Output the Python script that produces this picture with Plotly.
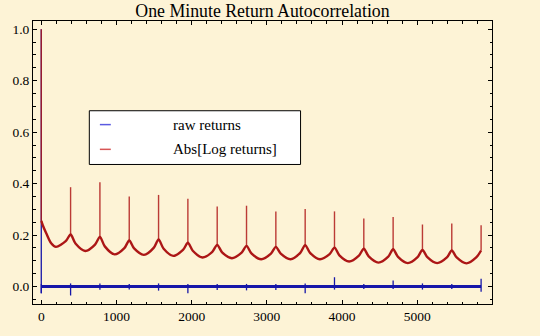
import plotly.graph_objects as go

DAY = 390  # one trading day of one-minute bars
N_DAYS = 15

# Abs[Log returns] autocorrelation
# level just under each whole-day spike (lags 390, 780, ..., 5850)
abs_peak = [0.202, 0.193, 0.179, 0.183, 0.170, 0.162, 0.158, 0.154,
            0.161, 0.151, 0.147, 0.145, 0.142, 0.140, 0.140]
# top of the spike at each whole-day lag
abs_spike = [0.386, 0.405, 0.350, 0.356, 0.341, 0.311, 0.314, 0.292,
             0.301, 0.292, 0.264, 0.270, 0.241, 0.245, 0.238]
# mid-day troughs (lags 195, 585, ...)
abs_trough = [0.154, 0.138, 0.125, 0.123, 0.119, 0.113, 0.110, 0.106,
              0.106, 0.106, 0.097, 0.093, 0.091, 0.091, 0.090]
# 65 lags after each spike, and 65 lags before the next one
abs_fall = [0.167, 0.156, 0.148, 0.148, 0.139, 0.133, 0.129, 0.128,
            0.131, 0.121, 0.117, 0.115, 0.114, 0.113]
abs_rise = [0.176, 0.163, 0.149, 0.150, 0.142, 0.135, 0.132, 0.128,
            0.131, 0.126, 0.120, 0.116, 0.114, 0.113, 0.113]
# opening lags of the first day
abs_head_lag = [0, 1, 20, 66, 132]
abs_head = [1.0, 0.255, 0.238, 0.207, 0.168]

# raw returns autocorrelation: 1 at lag 0, then flat at zero with a few daily blips
raw_lag = [0, 1, 5850]
raw_val = [1.0, 0.0, 0.0]
raw_spike_lag = [1, 390, 780, 1170, 1560, 1950, 2340, 2730, 3120, 3510,
                 3900, 4290, 4680, 5070, 5460, 5850]
raw_spike_lo = [-0.026, -0.035, -0.013, -0.012, -0.016, -0.026, -0.014, -0.015,
                -0.014, -0.026, -0.012, -0.010, -0.010, -0.012, -0.010, -0.020]
raw_spike_hi = [0.010, 0.012, 0.012, 0.010, 0.012, 0.010, 0.010, 0.010,
                0.010, 0.012, 0.036, 0.010, 0.023, 0.012, 0.010, 0.030]

SERIF = "Liberation Serif"
BG = "#FDF3D6"
RED = "rgb(172,22,22)"
BLUE = "rgb(22,22,168)"

# daily scallops: knots at spike, +65, trough, -65 before next spike
arc_x = abs_head_lag[1:]
arc_y = abs_head[1:]
for d in range(N_DAYS):
    start = d * DAY
    if d > 0:
        arc_x += [start, start + 65]
        arc_y += [abs_peak[d - 1], abs_fall[d - 1]]
    arc_x += [start + DAY // 2, start + DAY - 65]
    arc_y += [abs_trough[d], abs_rise[d]]
arc_x.append(N_DAYS * DAY)
arc_y.append(abs_peak[-1])

# vertical spikes: lag 0 plus every whole day
spk_x = [abs_head_lag[0], abs_head_lag[0], None]
spk_y = [abs_head[1], abs_head[0], None]
for k in range(N_DAYS):
    lag = (k + 1) * DAY
    spk_x += [lag, lag, None]
    spk_y += [abs_peak[k], abs_spike[k], None]

# raw returns: thin drop from lag 0 to lag 1, thick noisy band afterwards
blip_x = [raw_lag[0], raw_lag[0], None]
blip_y = [raw_val[0], raw_spike_lo[0], None]
for lag, lo, hi in zip(raw_spike_lag, raw_spike_lo, raw_spike_hi):
    blip_x += [lag, lag, None]
    blip_y += [lo, hi, None]

fig = go.Figure()
fig.add_trace(go.Scatter(x=raw_lag[1:], y=raw_val[1:], mode="lines",
                         line=dict(color=BLUE, width=3.2), showlegend=False,
                         name="raw returns"))
fig.add_trace(go.Scatter(x=blip_x, y=blip_y, mode="lines",
                         line=dict(color=BLUE, width=1.3), showlegend=False))
fig.add_trace(go.Scatter(x=spk_x, y=spk_y, mode="lines",
                         line=dict(color="rgba(175,25,25,0.85)", width=1.4),
                         showlegend=False))
fig.add_trace(go.Scatter(x=arc_x, y=arc_y, mode="lines",
                         line=dict(color=RED, width=2.4, shape="spline", smoothing=0.8),
                         showlegend=False, name="Abs[Log returns]"))

# legend box
fig.add_shape(type="rect", xref="paper", yref="paper",
              x0=0.1227, x1=0.5829, y0=0.493, y1=0.6829,
              fillcolor="white", line=dict(color="black", width=1), layer="above")
for yy, col, label in [(0.6339, "rgb(90,90,225)", "raw returns"),
                       (0.5465, "rgb(215,85,85)", "Abs[Log returns]")]:
    fig.add_shape(type="line", xref="paper", yref="paper",
                  x0=0.1457, x1=0.1695, y0=yy, y1=yy,
                  line=dict(color=col, width=1.5), layer="above")
    fig.add_annotation(xref="paper", yref="paper", x=0.3015, y=yy,
                       xanchor="left", yanchor="middle", text=label,
                       showarrow=False,
                       font=dict(family=SERIF, size=15, color="black"))

axis_common = dict(showgrid=False, zeroline=False, showline=True,
                   linecolor="black", linewidth=1, mirror="allticks",
                   ticks="inside", ticklen=4, tickwidth=1, tickcolor="black",
                   tickfont=dict(family=SERIF, size=13.5, color="black"))

fig.update_xaxes(range=[-110, 5995], tick0=0, dtick=1000,
                 minor=dict(tick0=0, dtick=200, ticks="inside", ticklen=2.5,
                            tickcolor="black", tickwidth=1),
                 **axis_common)
fig.update_yaxes(range=[-0.068, 1.032], tick0=0, dtick=0.2, tickformat=".1f",
                 minor=dict(tick0=0, dtick=0.05, ticks="inside", ticklen=2.5,
                            tickcolor="black", tickwidth=1),
                 **axis_common)

fig.update_layout(
    width=540, height=336,
    margin=dict(l=30, r=48, t=21, b=29),
    paper_bgcolor=BG, plot_bgcolor=BG,
    title=dict(text="One Minute Return Autocorrelation", x=0.5, xref="paper",
               xanchor="center", y=0.967, yref="container", yanchor="middle",
               font=dict(family=SERIF, size=17.8, color="black")),
)

fig.write_html("out.html")
